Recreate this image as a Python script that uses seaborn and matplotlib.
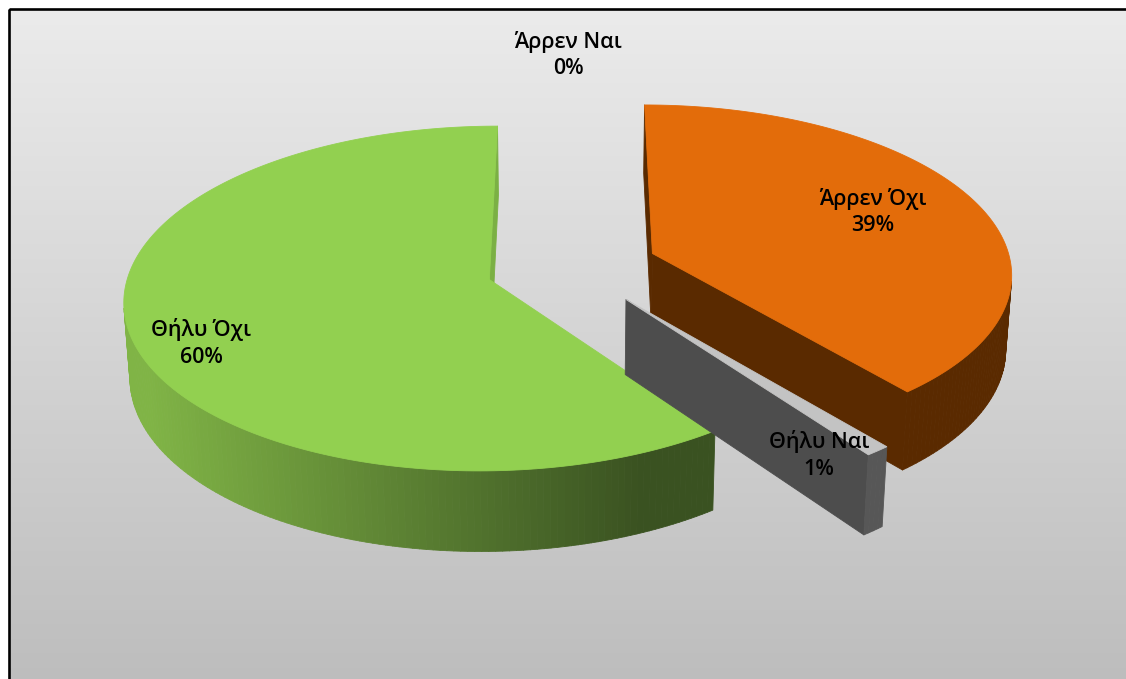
import numpy as np
import matplotlib
matplotlib.use("Agg")
import matplotlib.pyplot as plt
import matplotlib.colors as mcolors
from matplotlib.collections import PolyCollection
from matplotlib.patches import Polygon, Rectangle
import seaborn as sns

# ---- data -------------------------------------------------------------
categories = ["Άρρεν Ναι", "Άρρεν Όχι", "Θήλυ Ναι", "Θήλυ Όχι"]
shares = [0.0, 39.0, 1.0, 60.0]

# ---- styling ----------------------------------------------------------
top_colors = ["#4f81bd", "#e36c0a", "#c3c3c3", "#92d050"]
rim_colors = [("#385d8a", "#385d8a"), ("#5a2a00", "#5a2a00"),
              ("#575757", "#575757"), ("#80b446", "#3a5221")]
radial_colors = ["#385d8a", "#5a2a00", "#4d4d4d", "#7bb044"]
label_xy = [(568, 55), (873, 212), (819, 455), (201, 343)]

sns.set_theme(style="white")
plt.rcParams["font.family"] = ["Open Sans", "DejaVu Sans"]

W, H = 1126, 679
fig = plt.figure(figsize=(W / 100, H / 100), dpi=100)
ax = fig.add_axes([0, 0, 1, 1])

# chart-area background: vertical grey gradient inside a black frame
grad = np.linspace(235, 189, 256) / 255.0
img = np.repeat(np.repeat(grad[:, None, None], 2, axis=1), 3, axis=2)
ax.imshow(img, extent=(8.5, W + 5, H + 5, 9.3), aspect="auto",
          interpolation="bilinear", zorder=0)
ax.add_patch(Rectangle((8.5, 9.3), W + 40, H + 40, fill=False, edgecolor="black",
                       linewidth=1.9, zorder=1))
ax.set_xlim(0, W)
ax.set_ylim(H, 0)
ax.axis("off")

# ---- 3-D pie geometry ---------------------------------------------------
ELEV = np.deg2rad(27.8)
DIST = 8.1
FOCAL = 2910
CX, CY = 572, 267
THICK = 0.236
EXPLODE = 0.24


def project(X, Y, Z):
    w = DIST + Y * np.cos(ELEV) - Z * np.sin(ELEV)
    return np.column_stack([CX + FOCAL * X / w,
                            CY - FOCAL * (Y * np.sin(ELEV) + Z * np.cos(ELEV)) / w])


def facing_viewer(poly):
    x, y = poly[:, 0], -poly[:, 1]
    return 0.5 * np.sum(x * np.roll(y, -1) - np.roll(x, -1) * y) > 1e-6


def blend(c0, c1, t):
    a, b = np.array(mcolors.to_rgb(c0)), np.array(mcolors.to_rgb(c1))
    return tuple(a * (1 - t) + b * t)


total = float(sum(shares))
edges = np.concatenate([[0.0], np.cumsum(shares)]) / total * 360.0

slices = []
for i, v in enumerate(shares):
    a0, a1 = np.deg2rad(edges[i]), np.deg2rad(edges[i + 1])
    mid = 0.5 * (a0 + a1)
    ox, oy = EXPLODE * np.sin(mid), EXPLODE * np.cos(mid)
    slices.append((i, a0, a1, mid, ox, oy))

# paint far slices first
slices.sort(key=lambda s: -(0.5 * np.cos(s[3]) + s[5]))

for i, a0, a1, mid, ox, oy in slices:
    if shares[i] <= 0:
        continue
    n = max(3, int(np.degrees(a1 - a0)) + 2)
    th = np.linspace(a0, a1, n)
    xs, ys = np.sin(th) + ox, np.cos(th) + oy
    top_arc = project(xs, ys, np.zeros(n))
    bot_arc = project(xs, ys, -THICK * np.ones(n))
    c_top = project(np.array([ox]), np.array([oy]), np.array([0.0]))[0]
    c_bot = project(np.array([ox]), np.array([oy]), np.array([-THICK]))[0]

    faces, colors = [], []
    # radial cut faces
    start = np.array([c_top, top_arc[0], bot_arc[0], c_bot])
    end = np.array([c_top, c_bot, bot_arc[-1], top_arc[-1]])
    for f in (start, end):
        if facing_viewer(f):
            faces.append(f)
            colors.append(mcolors.to_rgb(radial_colors[i]))
    # outer rim
    light, dark = rim_colors[i]
    for k in range(n - 1):
        q = np.array([top_arc[k], top_arc[k + 1], bot_arc[k + 1], bot_arc[k]])
        if facing_viewer(q):
            t = np.clip((q[:, 0].mean() - 150) / (640 - 150), 0, 1)
            faces.append(q)
            colors.append(blend(light, dark, t))
    if faces:
        ax.add_collection(PolyCollection(faces, facecolors=colors, edgecolors=colors,
                                         linewidths=0.6, zorder=2))
    top_poly = np.vstack([c_top, top_arc])
    ax.add_patch(Polygon(top_poly, closed=True, facecolor=top_colors[i],
                         edgecolor=top_colors[i], linewidth=0.6, zorder=2))

# ---- data labels ---------------------------------------------------------
for cat, v, (lx, ly) in zip(categories, shares, label_xy):
    ax.text(lx, ly, f"{cat}\n{round(v / total * 100):.0f}%", ha="center", va="center",
            multialignment="center", fontsize=15.5, fontweight="semibold",
            color="black", linespacing=1.35, zorder=5)

fig.savefig("out.png", dpi=100)
